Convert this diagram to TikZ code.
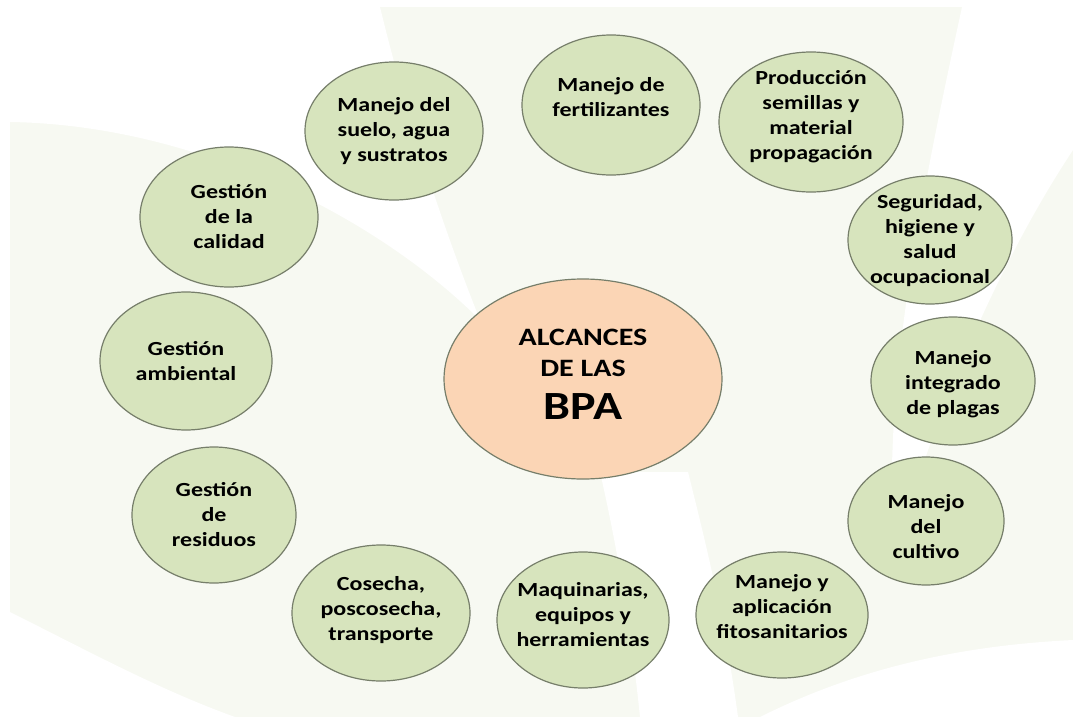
\documentclass[tikz,border=0pt]{standalone}
\usepackage{fontspec}
\setmainfont{Carlito}[FakeStretch=1.2]
\usetikzlibrary{shapes.geometric}
\definecolor{hoja}{HTML}{F7F9F2}
\definecolor{verde}{HTML}{D7E4BD}
\definecolor{borde}{HTML}{767E6A}
\definecolor{salmon}{HTML}{FBD5B5}

\begin{document}
\begin{tikzpicture}[x=1pt, y=-1pt,
	tema/.style={ellipse, draw=borde, fill=verde, line width=1.2pt, inner sep=0pt},
	centro/.style={ellipse, draw=borde, fill=salmon, line width=1.2pt, inner sep=0pt},
	texto/.style={inner sep=0pt, align=center, font=\fontsize{20}{25}\selectfont\bfseries}]
	\useasboundingbox (0,0) rectangle (1073,717);

	% hojas del fondo
	\fill[hoja] (10,7) rectangle (1073,717);
	\fill[white] (10,7) -- (380,7) .. controls (405,110) and (440,220) .. (480,320)
		.. controls (380,220) and (200,125) .. (10,122) -- cycle;
	\fill[white] (10,612) .. controls (90,652) and (160,690) .. (235,717) -- (10,717) -- cycle;
	\fill[white] (600,472) .. controls (620,560) and (632,640) .. (640,717) -- (738,717)
		.. controls (725,620) and (705,540) .. (688,472) -- cycle;
	\fill[white] (962,7) -- (1073,7) -- (1073,150) .. controls (1000,260) and (930,420) .. (895,560)
		.. controls (880,400) and (920,200) .. (962,7) -- cycle;
	\fill[white] (760,717) .. controls (850,672) and (950,646) .. (1073,640) -- (1073,717) -- cycle;

	% centro
	\node[centro, minimum width=278pt, minimum height=200pt] (bpa) at (583,379) {};
	\node[texto, font=\fontsize{25}{31}\selectfont\bfseries, yshift=5pt] (bpa-t) at (bpa)
		{ALCANCES\\DE LAS\\[12pt]{\fontsize{40}{40}\selectfont BPA}};

	% alcances
	\node[tema, minimum width=178pt, minimum height=138pt] (suelo) at (394,131) {};
	\node[texto] (suelo-t) at (suelo) {Manejo del\\suelo, agua\\y sustratos};
	\node[tema, minimum width=178pt, minimum height=140pt] (fertil) at (611,105) {};
	\node[texto, yshift=8pt] (fertil-t) at (fertil) {Manejo de\\fertilizantes};
	\node[tema, minimum width=184pt, minimum height=140pt] (semillas) at (811,122) {};
	\node[texto, yshift=5pt] (semillas-t) at (semillas) {Producción\\semillas y\\material\\propagación};
	\node[tema, minimum width=164pt, minimum height=128pt] (seguridad) at (930,240) {};
	\node[texto, yshift=-1pt] (seguridad-t) at (seguridad) {Seguridad,\\higiene y\\salud\\ocupacional};
	\node[tema, minimum width=164pt, minimum height=128pt] (plagas) at (953,381) {};
	\node[texto, yshift=-3pt] (plagas-t) at (plagas) {Manejo\\integrado\\de plagas};
	\node[tema, minimum width=156pt, minimum height=128pt] (cultivo) at (926,521) {};
	\node[texto, yshift=-6pt] (cultivo-t) at (cultivo) {Manejo\\del\\cultivo};
	\node[tema, minimum width=172pt, minimum height=126pt] (fito) at (782,615) {};
	\node[texto, yshift=8pt] (fito-t) at (fito) {Manejo y\\aplicación\\fitosanitarios};
	\node[tema, minimum width=172pt, minimum height=136pt] (maquinas) at (583,620) {};
	\node[texto, yshift=5pt] (maquinas-t) at (maquinas) {Maquinarias,\\equipos y\\herramientas};
	\node[tema, minimum width=178pt, minimum height=136pt] (cosecha) at (381,613) {};
	\node[texto, yshift=3pt] (cosecha-t) at (cosecha) {Cosecha,\\poscosecha,\\transporte};
	\node[tema, minimum width=164pt, minimum height=136pt] (residuos) at (214,515) {};
	\node[texto] (residuos-t) at (residuos) {Gestión\\de\\residuos};
	\node[tema, minimum width=172pt, minimum height=138pt] (ambiental) at (186,361) {};
	\node[texto] (ambiental-t) at (ambiental) {Gestión\\ambiental};
	\node[tema, minimum width=178pt, minimum height=140pt] (calidad) at (229,217) {};
	\node[texto] (calidad-t) at (calidad) {Gestión\\de la\\calidad};
\end{tikzpicture}
\end{document}
